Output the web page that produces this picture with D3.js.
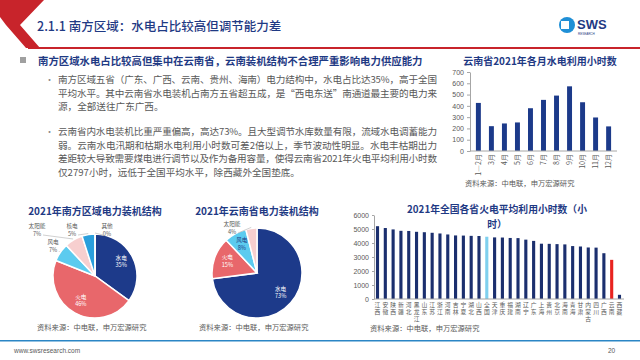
<!DOCTYPE html>
<html lang="zh">
<head>
<meta charset="UTF-8">
<title>南方区域：水电占比较高但调节能力差</title>
<script src="https://cdn.jsdelivr.net/npm/d3@7"></script>
<style>
    body { margin: 0; background: #fff; }
    svg { display: block; font-family: "Noto Sans CJK SC", "Noto Sans", sans-serif; }
    .vlabel { writing-mode: vertical-rl; text-orientation: upright; }
</style>
</head>
<body>
<script>
    // ---- data ----
    var months = ["1—2月", "3月", "4月", "5月", "6月", "7月", "8月", "9月", "10月", "11月", "12月"];
    var monthHours = [426, 220, 244, 253, 379, 453, 491, 573, 432, 297, 218];
    var monthTicks = [0, 100, 200, 300, 400, 500, 600, 700];

    var southNames = ["水电", "火电", "风电", "太阳能", "核电", "其他"];
    var southShares = [35, 46, 7, 7, 5, 0];

    var yunnanNames = ["水电", "火电", "风电", "太阳能"];
    var yunnanShares = [73, 15, 8, 4];

    var provinces = ["江西", "安徽", "陕西", "新疆", "河北", "黑龙江", "山东", "江苏", "浙江", "河南", "吉林",
        "宁夏", "湖北", "山西", "全国", "天津", "重庆", "福建", "湖南", "辽宁", "广东", "上海", "贵州",
        "北京", "海南", "青海", "甘肃", "内蒙古", "四川", "广西", "云南", "西藏"];
    var thermalHours = [5200, 5070, 4970, 4870, 4860, 4800, 4770, 4730, 4680, 4610, 4540,
        4530, 4510, 4500, 4448, 4400, 4390, 4360, 4350, 4240, 4150, 3950, 3940,
        3920, 3900, 3780, 3750, 3680, 3670, 3270, 2797, 300];
    var thermalTicks = [0, 1000, 2000, 3000, 4000, 5000, 6000];

    var para1 = ["南方区域五省（广东、广西、云南、贵州、海南）电力结构中，水电占比达35%，高于全国",
        "平均水平。其中云南省水电装机占南方五省超五成，是“西电东送”南通道最主要的电力来",
        "源，全部送往广东广西。"];
    var para2 = ["云南省内水电装机比重严重偏高，高达73%。且大型调节水库数量有限，流域水电调蓄能力",
        "弱。云南水电汛期和枯期水电利用小时数可差2倍以上，季节波动性明显。水电丰枯期出力",
        "差距较大导致需要煤电进行调节以及作为备用容量，使得云南省2021年火电平均利用小时数",
        "仅2797小时，远低于全国平均水平，除西藏外全国垫底。"];

    var NAVY = "#1f3a84";
    var GRAY = "#595959";
    var AXIS = "#a6a6a6";
    var SOURCE = "资料来源：中电联，申万宏源研究";

    var svg = d3.select("body").append("svg").attr("width", 640).attr("height", 360);

    // ---- header ----
    svg.append("polygon")
        .attr("points", "0,0 44,0 20,25 40,48 26,48 6,25 0,17")
        .attr("fill", "#c8242b");
    svg.append("rect").attr("x", 28).attr("y", 47).attr("width", 612).attr("height", 2).attr("fill", "#c8242b");
    svg.append("text").attr("x", 37).attr("y", 31)
        .attr("font-size", "12.5px").attr("font-weight", 500).attr("fill", NAVY)
        .text("2.1.1 南方区域：水电占比较高但调节能力差");

    // logo
    svg.append("circle").attr("cx", 567).attr("cy", 25).attr("r", 8).attr("fill", "#1f8fd6");
    svg.append("rect").attr("x", 561).attr("y", 21).attr("width", 8).attr("height", 8).attr("fill", "#fff");
    svg.append("text").attr("x", 577).attr("y", 29).attr("font-size", "13px").attr("font-weight", "bold")
        .attr("fill", NAVY).attr("font-family", "Liberation Sans, sans-serif").text("SWS");
    svg.append("text").attr("x", 578).attr("y", 35).attr("font-size", "3px").attr("fill", NAVY)
        .attr("font-family", "Liberation Sans, sans-serif").text("RESEARCH");

    // ---- text block ----
    svg.append("rect").attr("x", 20).attr("y", 57).attr("width", 6).attr("height", 6).attr("fill", "#a0a0a0");
    svg.append("text").attr("x", 38).attr("y", 65)
        .attr("font-size", "10.4px").attr("font-weight", "bold").attr("fill", NAVY)
        .text("南方区域水电占比较高但集中在云南省，云南装机结构不合理严重影响电力供应能力");

    function paragraph(lines, y0) {
        svg.append("text").attr("x", 45).attr("y", y0).attr("font-size", "9px").attr("fill", "#8a8a8a").text("•");
        svg.selectAll(null).data(lines).enter().append("text")
            .attr("x", 58)
            .attr("y", function(d, i) { return y0 + i * 13.5; })
            .attr("font-size", "9.6px")
            .attr("fill", GRAY)
            .each(function(d, i) {
                if (i < lines.length - 1) d3.select(this).attr("textLength", 379).attr("lengthAdjust", "spacing");
            })
            .text(function(d) { return d; });
    }
    paragraph(para1, 83);
    paragraph(para2, 135);

    function styleAxis(g) {
        g.select(".domain").attr("stroke", AXIS);
        g.selectAll(".tick line").attr("stroke", AXIS);
        g.selectAll(".tick text").attr("fill", GRAY).attr("font-size", "7px")
            .attr("font-family", "Liberation Sans, sans-serif");
    }

    // ---- top right: monthly hydro hours ----
    svg.append("text").attr("x", 540).attr("y", 65).attr("text-anchor", "middle")
        .attr("font-size", "10px").attr("font-weight", "bold").attr("fill", NAVY)
        .text("云南省2021年各月水电利用小时数");

    var x1 = d3.scaleBand().domain(months).range([472, 615]).paddingInner(0.62).paddingOuter(0.3);
    var y1 = d3.scaleLinear().domain([0, 700]).range([151, 72]);

    svg.append("g").selectAll("rect")
        .data(monthHours)
        .enter()
        .append("rect")
        .attr("x", function(d, i) { return x1(months[i]); })
        .attr("y", function(d) { return y1(d); })
        .attr("width", x1.bandwidth())
        .attr("height", function(d) { return y1(0) - y1(d); })
        .attr("fill", "#1c3a8a");

    svg.append("g").attr("transform", "translate(470,0)")
        .call(d3.axisLeft(y1).tickValues(monthTicks).tickSize(3).tickSizeOuter(0))
        .call(styleAxis);
    svg.append("line").attr("x1", 470).attr("x2", 617).attr("y1", 151).attr("y2", 151).attr("stroke", AXIS);

    svg.append("g").selectAll("text")
        .data(months)
        .enter()
        .append("text")
        .attr("transform", function(d) {
            return "translate(" + (x1(d) + x1.bandwidth() / 2 + 2.4) + ",154) rotate(-90)";
        })
        .attr("text-anchor", "end")
        .attr("font-size", "7px")
        .attr("fill", GRAY)
        .text(function(d) { return d; });

    svg.append("text").attr("x", 465).attr("y", 186).attr("font-size", "7.3px").attr("fill", GRAY).text(SOURCE);

    // ---- pies ----
    var pieLayout = d3.pie().sort(null).value(function(d) { return d.v; });

    function drawPie(cx, cy, r, names, shares, colors, title, insideFill, outside) {
        var data = names.map(function(n, i) { return { n: n, v: shares[i] }; });
        var arcs = pieLayout(data);
        var arc = d3.arc().innerRadius(0).outerRadius(r);
        var inner = d3.arc().innerRadius(r * 0.7).outerRadius(r * 0.7);
        var g = svg.append("g").attr("transform", "translate(" + cx + "," + cy + ")");

        svg.append("text").attr("x", cx).attr("y", 215).attr("text-anchor", "middle")
            .attr("font-size", "10px").attr("font-weight", "bold").attr("fill", NAVY).text(title);

        g.selectAll("path")
            .data(arcs)
            .enter()
            .append("path")
            .attr("d", arc)
            .attr("fill", function(d, i) { return colors[i]; })
            .attr("stroke", "#fff")
            .attr("stroke-width", 1.5);

        arcs.forEach(function(a) {
            var pos, fill;
            if (outside[a.data.n]) {
                pos = outside[a.data.n];
                fill = GRAY;
                var mid = (a.startAngle + a.endAngle) / 2;
                var ex = Math.sin(mid) * (r + 1), ey = -Math.cos(mid) * (r + 1);
                g.append("line")
                    .attr("x1", pos[0] + (pos[0] < ex ? 6 : -4)).attr("y1", pos[1] + 7)
                    .attr("x2", ex).attr("y2", ey)
                    .attr("stroke", "#b0b0b0").attr("stroke-width", 0.6);
            } else {
                pos = inner.centroid(a);
                pos = [pos[0], pos[1] - 3];
                fill = insideFill[a.data.n] || "#fff";
            }
            g.append("text").attr("x", pos[0]).attr("y", pos[1])
                .attr("text-anchor", "middle").attr("font-size", "5.6px").attr("fill", fill)
                .text(a.data.n);
            g.append("text").attr("x", pos[0]).attr("y", pos[1] + 7.5)
                .attr("text-anchor", "middle").attr("font-size", "5.6px").attr("fill", fill)
                .text(a.data.v + "%");
        });

        svg.append("text").attr("x", cx - 58).attr("y", 330).attr("font-size", "7.3px").attr("fill", GRAY).text(SOURCE);
    }

    drawPie(95, 276, 42, southNames, southShares,
        ["#1d3a8a", "#e8676b", "#5ccbef", "#f7cfcf", "#2a9fdc", "#a0a0a0"],
        "2021年南方区域电力装机结构", {},
        { "太阳能": [-58, -48], "风电": [-42, -32], "核电": [-23, -48], "其他": [12, -48] });

    drawPie(257, 273, 45, yunnanNames, yunnanShares,
        ["#1d3a8a", "#e8676b", "#5ccbef", "#f7cfcf"],
        "2021年云南省电力装机结构", { "风电": NAVY },
        { "太阳能": [-25, -47] });

    // ---- bottom right: thermal hours by province ----
    svg.append("text").attr("x", 497).attr("y", 213).attr("text-anchor", "middle")
        .attr("font-size", "9.8px").attr("font-weight", "bold").attr("fill", NAVY)
        .text("2021年全国各省火电平均利用小时数（小");
    svg.append("text").attr("x", 497).attr("y", 228).attr("text-anchor", "middle")
        .attr("font-size", "9.8px").attr("font-weight", "bold").attr("fill", NAVY)
        .text("时）");

    var x2 = d3.scaleBand().domain(provinces).range([374, 623]).paddingInner(0.6).paddingOuter(0.25);
    var y2 = d3.scaleLinear().domain([0, 6000]).range([299, 215]);

    svg.append("g").selectAll("rect")
        .data(thermalHours)
        .enter()
        .append("rect")
        .attr("x", function(d, i) { return x2(provinces[i]); })
        .attr("y", function(d) { return y2(d); })
        .attr("width", x2.bandwidth())
        .attr("height", function(d) { return y2(0) - y2(d); })
        .attr("fill", function(d, i) {
            if (provinces[i] === "全国") return "#7fd0ee";
            if (provinces[i] === "云南") return "#e8231f";
            return "#1b2f6e";
        });

    svg.append("g").attr("transform", "translate(374,0)")
        .call(d3.axisLeft(y2).tickValues(thermalTicks).tickFormat(d3.format("d")).tickSize(2).tickSizeOuter(0))
        .call(styleAxis);
    svg.append("line").attr("x1", 374).attr("x2", 624).attr("y1", 299).attr("y2", 299).attr("stroke", AXIS);

    // stacked (vertical) province labels, one text per label
    svg.append("g").selectAll("text")
        .data(provinces)
        .enter()
        .append("text")
        .attr("class", "vlabel")
        .attr("x", function(d) { return x2(d) + x2.bandwidth() / 2; })
        .attr("y", 302)
        .attr("font-size", "5.8px")
        .attr("letter-spacing", "1.3px")
        .attr("fill", GRAY)
        .text(function(d) { return d; });

    svg.append("text").attr("x", 370).attr("y", 331).attr("font-size", "7.3px").attr("fill", GRAY).text(SOURCE);

    // ---- footer ----
    svg.append("rect").attr("x", 0).attr("y", 340).attr("width", 640).attr("height", 1.5).attr("fill", "#2b86c5");
    svg.append("text").attr("x", 14).attr("y", 353).attr("font-size", "6.5px").attr("fill", GRAY)
        .attr("font-family", "Liberation Sans, sans-serif").text("www.swsresearch.com");
    svg.append("text").attr("x", 608).attr("y", 353).attr("font-size", "6.5px").attr("fill", GRAY)
        .attr("font-family", "Liberation Sans, sans-serif").text("20");
</script>
</body>
</html>
